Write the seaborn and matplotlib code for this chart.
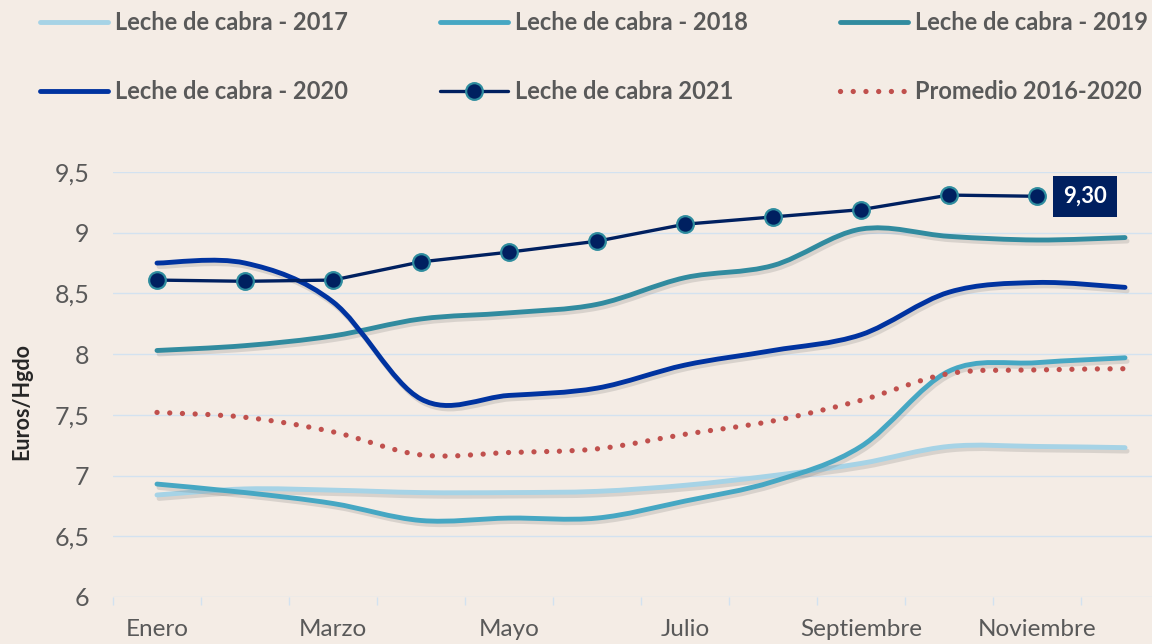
import numpy as np
import pandas as pd
import matplotlib
matplotlib.use('Agg')
import matplotlib.pyplot as plt
import matplotlib.patheffects as pe
from matplotlib.path import Path
from matplotlib.patches import PathPatch
from matplotlib.lines import Line2D
from matplotlib.ticker import FuncFormatter, FixedLocator
import seaborn as sns

# Datos (precio leche de cabra, euros/hgdo)
meses = ['Enero', 'Febrero', 'Marzo', 'Abril', 'Mayo', 'Junio', 'Julio',
         'Agosto', 'Septiembre', 'Octubre', 'Noviembre', 'Diciembre']
leche_2017 = [6.84, 6.89, 6.88, 6.86, 6.86, 6.87, 6.92, 7.00, 7.10, 7.24, 7.24, 7.23]
leche_2018 = [6.93, 6.86, 6.77, 6.63, 6.65, 6.65, 6.79, 6.95, 7.24, 7.86, 7.93, 7.97]
leche_2019 = [8.03, 8.07, 8.15, 8.29, 8.34, 8.41, 8.63, 8.73, 9.03, 8.97, 8.94, 8.96]
leche_2020 = [8.75, 8.75, 8.43, 7.63, 7.66, 7.72, 7.91, 8.03, 8.16, 8.51, 8.59, 8.55]
leche_2021 = [8.61, 8.60, 8.61, 8.76, 8.84, 8.93, 9.07, 9.13, 9.19, 9.31, 9.30]
promedio = [7.52, 7.48, 7.36, 7.17, 7.19, 7.22, 7.34, 7.45, 7.62, 7.84, 7.87, 7.88]

etiquetas = ['Leche de cabra - 2017', 'Leche de cabra - 2018', 'Leche de cabra - 2019',
             'Leche de cabra - 2020', 'Leche de cabra 2021', 'Promedio 2016-2020']
colores = ['#a6d3e6', '#46a7c3', '#318b9f', '#0033a0', '#002060', '#c0504d']

fondo = '#f4ece5'
gris = '#595959'
rejilla = '#d3e2f0'

sns.set_style('white')
plt.rcParams['font.family'] = ['Lato', 'DejaVu Sans']

fig = plt.figure(figsize=(11.52, 6.44), dpi=100, facecolor=fondo)
ax = fig.add_axes([113 / 1152, 47 / 644, 1056 / 1152, 425 / 644])
ax.set_facecolor(fondo)

sombra = [pe.SimpleLineShadow(offset=(1.5, -2.5), shadow_color='#6b6b6b', alpha=0.2), pe.Normal()]


def curva_suave(y):
    # curva suavizada tipo Excel (bezier por Catmull-Rom)
    pts = np.column_stack([np.arange(len(y), dtype=float), np.asarray(y, float)])
    ext = np.vstack([pts[0], pts, pts[-1]])
    verts = [pts[0]]
    codes = [Path.MOVETO]
    for i in range(len(pts) - 1):
        p0, p1, p2, p3 = ext[i], ext[i + 1], ext[i + 2], ext[i + 3]
        verts += [p1 + (p2 - p0) / 6, p2 - (p3 - p1) / 6, p2]
        codes += [Path.CURVE4] * 3
    return Path(verts, codes)


series = [leche_2017, leche_2018, leche_2019, leche_2020]
for serie, color in zip(series, colores[:4]):
    ax.add_patch(PathPatch(curva_suave(serie), fill=False, edgecolor=color, lw=3.5,
                           capstyle='round', joinstyle='round', path_effects=sombra, zorder=3))

ax.add_patch(PathPatch(curva_suave(promedio), fill=False, edgecolor=colores[5], lw=3.8,
                       linestyle=(0, (0.01, 2.4)), capstyle='round', zorder=4))

df21 = pd.DataFrame({'mes': np.arange(len(leche_2021)), 'valor': leche_2021})
sns.lineplot(data=df21, x='mes', y='valor', ax=ax, color=colores[4], lw=2.4,
             marker='o', markersize=12, markerfacecolor=colores[4],
             markeredgecolor='#2e8c9e', markeredgewidth=1.6, zorder=6)

ultimo = leche_2021[-1]
ax.annotate(f'{ultimo:.2f}'.replace('.', ','), xy=(len(leche_2021) - 1, ultimo),
            xytext=(19, 0), textcoords='offset points', ha='left', va='center',
            fontsize=16, fontweight='bold', color='white', zorder=7,
            bbox=dict(boxstyle='square,pad=0.45', fc=colores[4], ec='none'))

# Ejes
ax.set_xlim(-0.5, 11.5)
ax.set_ylim(6, 9.5)
ax.set_yticks(np.arange(6, 9.51, 0.5))
ax.yaxis.set_major_formatter(FuncFormatter(lambda v, p: f'{v:g}'.replace('.', ',')))
ax.xaxis.set_major_locator(FixedLocator(range(0, 12, 2)))
ax.set_xticklabels(meses[::2])
ax.xaxis.set_minor_locator(FixedLocator(np.arange(-0.5, 12, 1)))
ax.tick_params(axis='x', which='major', length=0, pad=16, labelsize=17.5, labelcolor=gris)
ax.tick_params(axis='x', which='minor', length=6, width=1, color=rejilla, bottom=True)
ax.tick_params(axis='y', length=0, pad=17, labelsize=18, labelcolor=gris)
ax.grid(axis='y', color=rejilla, lw=1)
ax.set_axisbelow(True)
for s in ax.spines.values():
    s.set_visible(False)
ax.set_xlabel('')
ax.set_ylabel('Euros/Hgdo', fontsize=15.5, fontweight='bold', color='#262626')
ax.yaxis.set_label_coords(-0.076, 0.46)

# Leyenda (orden por filas)
handles = [Line2D([], [], color=colores[0], lw=3.5),
           Line2D([], [], color=colores[1], lw=3.5),
           Line2D([], [], color=colores[2], lw=3.5),
           Line2D([], [], color=colores[3], lw=3.5),
           Line2D([], [], color=colores[4], lw=2.4, marker='o', markersize=12,
                  markerfacecolor=colores[4], markeredgecolor='#2e8c9e', markeredgewidth=1.6),
           Line2D([], [], color=colores[5], lw=3.8, linestyle=(0, (0.01, 2.4)),
                  dash_capstyle='round')]
orden = [0, 3, 1, 4, 2, 5]
fig.legend([handles[i] for i in orden], [etiquetas[i] for i in orden], ncols=3,
           loc='upper left', bbox_to_anchor=(40 / 1152, 1 - 11 / 644), frameon=False,
           borderpad=0, borderaxespad=0, handlelength=2.9, handletextpad=0.27,
           columnspacing=3.9, labelspacing=1.95,
           prop={'family': ['Lato', 'DejaVu Sans'], 'weight': 'bold', 'size': 17},
           labelcolor=gris)

fig.savefig('out.png', dpi=100, facecolor=fondo)
